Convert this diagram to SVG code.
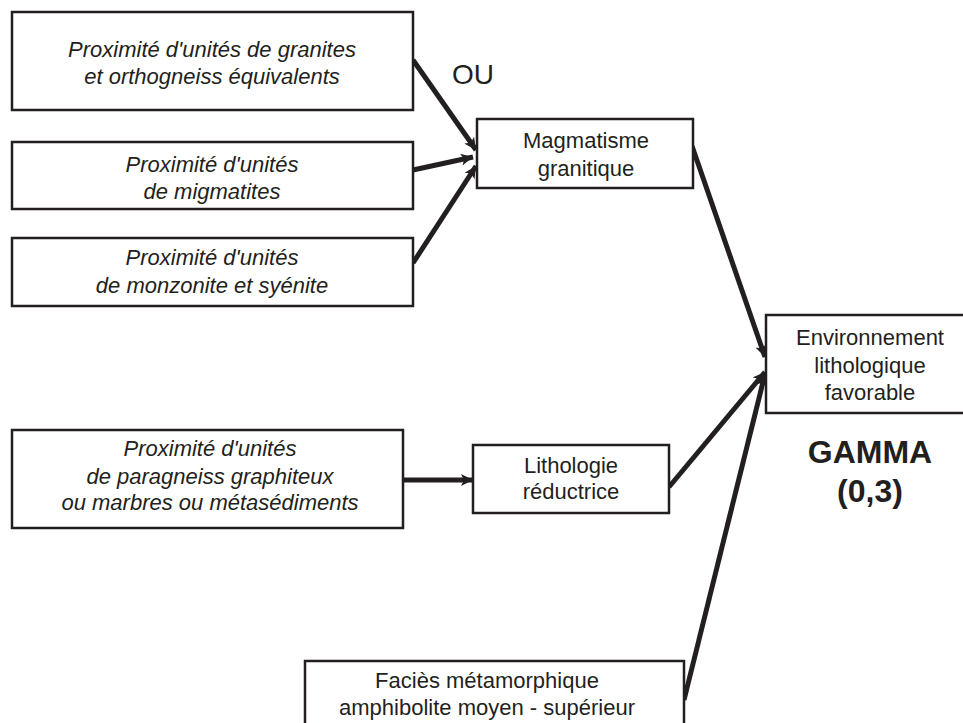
<svg xmlns="http://www.w3.org/2000/svg" width="963" height="723" viewBox="0 0 963 723">
<style>
.box{fill:#fff;stroke:#231f20;stroke-width:2.5}
.t{font-family:"Liberation Sans",Arial,sans-serif;font-size:22px;fill:#231f20;text-anchor:middle}
.i{font-style:italic}
.c{stroke:#231f20;stroke-width:5;fill:none;marker-end:url(#ah)}
.b{font-weight:bold;font-size:32px}
</style>
<defs>
<marker id="ah" markerUnits="userSpaceOnUse" markerWidth="14" markerHeight="14" refX="12" refY="6" orient="auto">
<path d="M0,0 L12,6 L0,12 L3,6 z" fill="#231f20"/>
</marker>
</defs>
<rect width="963" height="723" fill="#fff"/>
<g id="connectors">
<line class="c" x1="413" y1="60" x2="476" y2="150"/>
<line class="c" x1="413" y1="170" x2="473" y2="157"/>
<line class="c" x1="413" y1="263" x2="476" y2="166"/>
<line class="c" x1="692" y1="146" x2="765" y2="357"/>
<line class="c" x1="669" y1="487" x2="765" y2="372"/>
<line class="c" x1="684" y1="700" x2="765" y2="374"/>
<line class="c" x1="403" y1="480" x2="473" y2="480"/>
</g>
<g id="n1"><rect class="box" x="12" y="12" width="401" height="98"/>
<text class="t i" x="212" y="57">Proximité d'unités de granites</text>
<text class="t i" x="212" y="84">et orthogneiss équivalents</text></g>
<g id="n2"><rect class="box" x="12" y="142" width="401" height="67"/>
<text class="t i" x="212" y="172">Proximité d'unités</text>
<text class="t i" x="212" y="199">de migmatites</text></g>
<g id="n3"><rect class="box" x="12" y="238" width="401" height="68"/>
<text class="t i" x="212" y="265">Proximité d'unités</text>
<text class="t i" x="212" y="293">de monzonite et syénite</text></g>
<g id="ou"><text class="t" x="473" y="84" style="font-size:28px">OU</text></g>
<g id="n4"><rect class="box" x="477" y="119" width="216" height="69"/>
<text class="t" x="586" y="148">Magmatisme</text>
<text class="t" x="586" y="176">granitique</text></g>
<g id="n5"><rect class="box" x="766" y="315" width="200" height="98"/>
<text class="t" x="870" y="345">Environnement</text>
<text class="t" x="870" y="373">lithologique</text>
<text class="t" x="870" y="400">favorable</text></g>
<g id="gamma"><text class="t b" x="870" y="463">GAMMA</text>
<text class="t b" x="870" y="502">(0,3)</text></g>
<g id="n6"><rect class="box" x="12" y="430" width="391" height="98"/>
<text class="t i" x="210" y="456">Proximité d'unités</text>
<text class="t i" x="210" y="484">de paragneiss graphiteux</text>
<text class="t i" x="210" y="510">ou marbres ou métasédiments</text></g>
<g id="n7"><rect class="box" x="473" y="445" width="196" height="68"/>
<text class="t" x="571" y="473">Lithologie</text>
<text class="t" x="571" y="499">réductrice</text></g>
<g id="n8"><rect class="box" x="305" y="661" width="379" height="70"/>
<text class="t" x="487" y="688">Faciès métamorphique</text>
<text class="t" x="487" y="715">amphibolite moyen - supérieur</text></g>
</svg>
